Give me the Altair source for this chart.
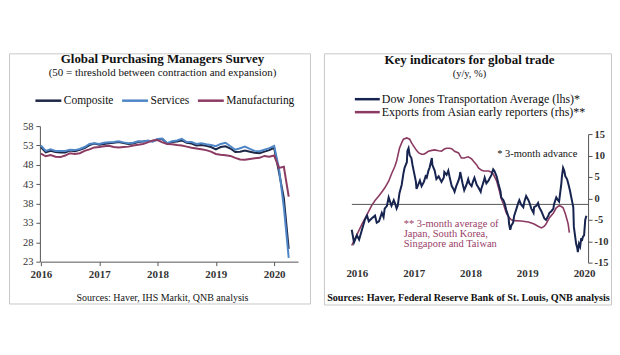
import altair as alt
import pandas as pd

SERIF = "Liberation Serif"

# ---------------- Left panel data: Global PMI (monthly, Jan 2016 - Apr 2020)
pmi_series = ["Composite", "Services", "Manufacturing"]
composite = [52.6, 51.2, 51.6, 51.3, 51.2, 51.2, 51.7, 51.5, 51.9, 52.3, 53.1, 53.5,
             53.2, 53.4, 53.6, 53.7, 53.9, 53.6, 53.4, 53.5, 53.9, 54.0, 54.2, 54.1,
             54.6, 54.6, 53.5, 53.9, 54.0, 54.3, 53.7, 53.5, 53.0, 53.1, 52.9, 52.6,
             52.0, 52.6, 52.8, 52.2, 51.3, 51.4, 51.7, 51.4, 51.1, 51.0, 51.4, 51.8,
             52.4, 46.1, 39.4, 26.3]
services = [53.0, 51.6, 52.0, 51.6, 51.6, 51.6, 51.9, 51.8, 52.1, 52.6, 53.4, 53.6,
            53.4, 53.7, 53.8, 53.9, 54.1, 53.8, 53.6, 53.7, 54.1, 54.0, 54.2, 54.0,
            54.7, 54.8, 53.6, 54.1, 54.3, 54.7, 53.9, 53.9, 53.4, 53.6, 53.3, 53.1,
            52.8, 53.4, 53.7, 52.8, 51.9, 52.3, 52.7, 52.1, 51.6, 51.5, 51.9, 52.3,
            52.9, 47.1, 37.0, 24.0]
manufacturing = [50.9, 50.2, 50.5, 50.1, 50.0, 50.4, 51.0, 50.8, 51.0, 51.6, 52.0, 52.5,
                 52.6, 52.8, 52.9, 52.6, 52.5, 52.6, 52.7, 53.0, 53.2, 53.4, 53.8, 54.3,
                 54.4, 53.8, 53.4, 53.3, 53.1, 53.0, 52.7, 52.4, 52.2, 52.0, 51.8, 51.4,
                 50.8, 50.6, 50.5, 50.3, 49.8, 49.4, 49.3, 49.5, 49.7, 49.8, 50.3, 50.1,
                 50.4, 47.2, 47.5, 39.8]
pmi_colors = ["#1d2747", "#4f86c6", "#8c3b63"]
year_ticks = [2016, 2017, 2018, 2019, 2020]
pmi_ticks = [23, 28, 33, 38, 43, 48, 53, 58]

# ---------------- Right panel data
trade_series = ["Dow Jones Transportation Average (lhs)*",
                "Exports from Asian early reporters (rhs)**"]
trade_colors = ["#17244f", "#8b3a62"]

dj_year = [2015.91, 2015.95, 2016.00, 2016.04, 2016.09, 2016.14, 2016.18, 2016.21, 2016.26, 2016.32,
           2016.35, 2016.39, 2016.44, 2016.47, 2016.49, 2016.53, 2016.56, 2016.60, 2016.61, 2016.65,
           2016.67, 2016.70, 2016.72, 2016.75, 2016.79, 2016.82, 2016.84, 2016.88, 2016.89, 2016.91,
           2016.93, 2016.96, 2016.98, 2017.00, 2017.04, 2017.05, 2017.09, 2017.11, 2017.14, 2017.18,
           2017.21, 2017.23, 2017.26, 2017.28, 2017.32, 2017.33, 2017.37, 2017.40, 2017.44, 2017.49,
           2017.53, 2017.54, 2017.58, 2017.61, 2017.63, 2017.67, 2017.70, 2017.72, 2017.75, 2017.79,
           2017.81, 2017.82, 2017.86, 2017.89, 2017.93, 2017.96, 2017.98, 2018.02, 2018.05, 2018.07,
           2018.11, 2018.14, 2018.18, 2018.19, 2018.23, 2018.25, 2018.28, 2018.32, 2018.33, 2018.37,
           2018.40, 2018.42, 2018.46, 2018.49, 2018.53, 2018.54, 2018.58, 2018.60, 2018.63, 2018.67,
           2018.68, 2018.70, 2018.72, 2018.75, 2018.77, 2018.81, 2018.84, 2018.86, 2018.89, 2018.93,
           2018.95, 2018.98, 2019.02, 2019.04, 2019.07, 2019.11, 2019.12, 2019.16, 2019.19, 2019.21,
           2019.25, 2019.28, 2019.30, 2019.33, 2019.37, 2019.39, 2019.42, 2019.46, 2019.47, 2019.51,
           2019.54, 2019.56, 2019.60, 2019.61, 2019.63, 2019.65, 2019.67, 2019.70, 2019.72, 2019.75,
           2019.77, 2019.79, 2019.81, 2019.82, 2019.84, 2019.86, 2019.88, 2019.89, 2019.91, 2019.93,
           2019.95, 2019.96, 2019.98, 2020.00, 2020.02, 2020.04]
dj_value = [-18, -27, -22, -25, -18, -11, -8, -12, -10, -8,
            -13, -12, -6, -9, -3, -1, 5, 0, -1, 3,
            1, -3, -1, 8, 14, 22, 26, 30, 38, 40,
            35, 33, 28, 24, 16, 11, 15, 17, 13, 16,
            20, 19, 24, 26, 33, 28, 24, 18, 20, 16,
            19, 23, 21, 24, 20, 13, 11, 9, 13, 17,
            20, 23, 15, 10, 14, 18, 15, 13, 17, 19,
            14, 12, 9, 11, 16, 19, 15, 17, 18, 21,
            25, 24, 20, 15, 9, 5, 3, 1, -4, -9,
            -14, -18, -15, -13, -8, -3, 1, 3, 0, -2,
            2, 6, 3, 1, -3, -6, -2, -1, 1, -2,
            -5, -8, -10, -11, -8, -6, -5, -3, 0, 5,
            3, 2, 15, 20, 26, 24, 20, 18, 15, 10,
            6, 2, -2, -16, -22, -28, -31, -34, -28, -30,
            -24, -26, -23, -22, -11, -8]

exp_year = [2015.91, 2016.00, 2016.09, 2016.14, 2016.21, 2016.26, 2016.32, 2016.39, 2016.44, 2016.49,
            2016.56, 2016.61, 2016.67, 2016.70, 2016.75, 2016.79, 2016.82, 2016.88, 2016.93, 2016.96,
            2017.00, 2017.05, 2017.09, 2017.14, 2017.18, 2017.23, 2017.26, 2017.32, 2017.37, 2017.44,
            2017.49, 2017.54, 2017.58, 2017.63, 2017.67, 2017.72, 2017.79, 2017.84, 2017.89, 2017.96,
            2018.02, 2018.05, 2018.11, 2018.14, 2018.19, 2018.23, 2018.32, 2018.37, 2018.40, 2018.46,
            2018.51, 2018.54, 2018.58, 2018.63, 2018.68, 2018.72, 2018.77, 2018.89, 2019.02, 2019.12,
            2019.19, 2019.25, 2019.30, 2019.33, 2019.39, 2019.46, 2019.51, 2019.56, 2019.60, 2019.63,
            2019.67, 2019.70, 2019.72, 2019.74]
exp_value = [-11, -8.5, -6, -4.8, -3, -1.7, -0.5, 0.6, 1.5, 2.4,
             4, 5.7, 7.5, 8.7, 11.7, 13, 13.8, 14.1, 13.8, 13,
             12.2, 11.2, 10.6, 10.3, 10.3, 10.7, 11, 11.2, 11.3, 11.1,
             11, 11.5, 11.7, 11.7, 11.6, 11, 10.6, 9.4, 9.4, 9.7,
             9.2, 8.7, 7.8, 7.1, 6.6, 6.4, 6.4, 6.1, 5.7, 4.1,
             1.7, 0, -1.3, -3.4, -4.5, -5, -5.2, -5.3, -5.5, -6,
             -6.5, -6.9, -6.5, -6, -4.5, -3.4, -2.2, -1.7, -1.9, -2.2,
             -3.6, -5, -6, -8]
lhs_ticks = [-40, -30, -20, -10, 0, 10, 20, 30, 40, 50]
rhs_ticks = [-15, -10, -5, 0, 5, 10, 15]

# ---------------- Panel sizes
LW, LH = 302, 251
RW, RH = 288, 252
AXIS_COLOR = "#555555"
LABEL_COLOR = "#333333"


def text_layer(s, x, y, size, weight="normal", color="#111111", align="center"):
    return alt.Chart(pd.DataFrame({"t": [s]})).mark_text(
        font=SERIF, fontSize=size, fontWeight=weight, color=color,
        align=align, baseline="middle"
    ).encode(x=alt.value(x), y=alt.value(y), text="t:N")


def legend_swatch(color, x1, x2, y):
    return alt.Chart(pd.DataFrame({"k": [0]})).mark_rule(
        color=color, strokeWidth=2.5
    ).encode(x=alt.value(x1), x2=alt.value(x2), y=alt.value(y))


# ---------------- Left panel
rows = []
for i in range(len(composite)):
    yr = 2016 + i / 12
    rows.append({"year": yr, "series": "Composite", "value": composite[i]})
    rows.append({"year": yr, "series": "Services", "value": services[i]})
    rows.append({"year": yr, "series": "Manufacturing", "value": manufacturing[i]})
df_pmi = pd.DataFrame(rows)

left_lines = alt.Chart(df_pmi).mark_line(strokeWidth=2).encode(
    x=alt.X("year:Q",
            scale=alt.Scale(domain=[2016, 2020.41], range=[32, 290], nice=False, zero=False),
            axis=alt.Axis(values=year_ticks, format="d", offset=-42, title=None, grid=False,
                          tickSize=4, labelPadding=3, labelFlush=False, labelFont=SERIF,
                          labelFontSize=11, labelFontWeight="bold", labelColor=LABEL_COLOR,
                          domainColor=AXIS_COLOR, tickColor=AXIS_COLOR)),
    y=alt.Y("value:Q",
            scale=alt.Scale(domain=[23, 58], range=[209, 73], nice=False, zero=False),
            axis=alt.Axis(values=pmi_ticks, offset=-31, title=None, grid=False,
                          tickSize=4, labelPadding=3, labelFont=SERIF, labelFontSize=10.5,
                          labelColor=LABEL_COLOR, domainColor=AXIS_COLOR, tickColor=AXIS_COLOR)),
    color=alt.Color("series:N",
                    scale=alt.Scale(domain=pmi_series, range=pmi_colors),
                    legend=alt.Legend(orient="none", legendX=25, legendY=33,
                                      direction="horizontal", title=None,
                                      symbolType="stroke", symbolSize=676,
                                      symbolStrokeWidth=2.5, labelFont=SERIF,
                                      labelFontSize=11.5, labelColor="#111111",
                                      columnPadding=3, labelOffset=1)),
    detail="series:N",
)

left_panel = alt.layer(
    left_lines,
    text_layer("Global Purchasing Managers Survey", 154, 6, 13, "bold"),
    text_layer("(50 = threshold between contraction and expansion)", 154, 19.5, 11),
    text_layer("Sources: Haver, IHS Markit, QNB analysis", 154, 245, 10),
).properties(width=LW, height=LH)

# ---------------- Right panel
df_dj = pd.DataFrame({"year": dj_year, "value": dj_value, "series": trade_series[0]})
df_exp = pd.DataFrame({"year": exp_year, "value": exp_value, "series": trade_series[1]})

x_trade = alt.X("year:Q",
                scale=alt.Scale(domain=[2016, 2020], range=[33, 261], nice=False, zero=False),
                axis=alt.Axis(values=year_ticks, format="d", offset=-39, title=None, grid=False,
                              domain=False, ticks=False, tickSize=0, labelPadding=2,
                              labelFlush=False, labelFont=SERIF, labelFontSize=11,
                              labelFontWeight="bold", labelColor=LABEL_COLOR))
color_trade = alt.Color("series:N",
                        scale=alt.Scale(domain=trade_series, range=trade_colors),
                        legend=None)

lhs_scale = alt.Scale(domain=[-40, 50], range=[208, 81], nice=False, zero=False)
rhs_scale = alt.Scale(domain=[-15, 15], range=[210, 81], nice=False, zero=False)

zero_rule = alt.Chart(pd.DataFrame({"v": [0]})).mark_rule(
    color=AXIS_COLOR, strokeWidth=1
).encode(y=alt.Y("v:Q", scale=lhs_scale, axis=None), x=alt.value(28), x2=alt.value(265))

dj_line = alt.Chart(df_dj).mark_line(strokeWidth=2).encode(
    x=x_trade,
    y=alt.Y("value:Q", scale=lhs_scale,
            axis=alt.Axis(values=lhs_ticks, offset=-28, title=None, grid=False,
                          tickSize=4, labelPadding=2, labelFont=SERIF, labelFontSize=10.5,
                          labelFontWeight="bold", labelColor=LABEL_COLOR,
                          labelExpr="'' + datum.value",
                          domainColor=AXIS_COLOR, tickColor=AXIS_COLOR)),
    color=color_trade,
)

exp_line = alt.Chart(df_exp).mark_line(strokeWidth=1.6).encode(
    x=x_trade,
    y=alt.Y("value:Q", scale=rhs_scale,
            axis=alt.Axis(values=rhs_ticks, orient="right", offset=-23, title=None, grid=False,
                          tickSize=4, labelPadding=2, labelFont=SERIF, labelFontSize=10.5,
                          labelFontWeight="bold", labelColor=LABEL_COLOR,
                          labelExpr="'' + datum.value",
                          domainColor=AXIS_COLOR, tickColor=AXIS_COLOR)),
    color=color_trade,
)

lhs_group = alt.layer(zero_rule, dj_line)
trade_core = alt.layer(exp_line, lhs_group).resolve_scale(y="independent")

note_color = "#9a4068"
right_panel = alt.layer(
    trade_core,
    text_layer("Key indicators for global trade", 146, 7, 13, "bold"),
    text_layer("(y/y, %)", 146, 20.5, 10.5),
    legend_swatch(trade_colors[0], 31, 56, 46),
    text_layer(trade_series[0], 58, 46, 12, align="left"),
    legend_swatch(trade_colors[1], 31, 56, 59),
    text_layer(trade_series[1], 58, 59, 12, align="left"),
    text_layer("* 3-month advance", 214, 101, 10.5),
    text_layer("** 3-month average of", 80, 171, 10.5, color=note_color, align="left"),
    text_layer("Japan, South Korea,", 80, 181, 10.5, color=note_color, align="left"),
    text_layer("Singapore and Taiwan", 80, 191, 10.5, color=note_color, align="left"),
    text_layer("Sources: Haver, Federal Reserve Bank of St. Louis, QNB analysis", 145, 245, 10.2, "bold"),
).properties(width=RW, height=RH)

chart = alt.hconcat(left_panel, right_panel, spacing=12).resolve_scale(
    x="independent", y="independent", color="independent"
).resolve_legend(color="independent").properties(
    padding={"left": 0, "top": 44, "right": 0, "bottom": 0},
    background="white",
).configure_view(stroke="#c8c8c8", strokeWidth=1)

chart.save("out.html", embed_options={"renderer": "svg", "actions": False})
